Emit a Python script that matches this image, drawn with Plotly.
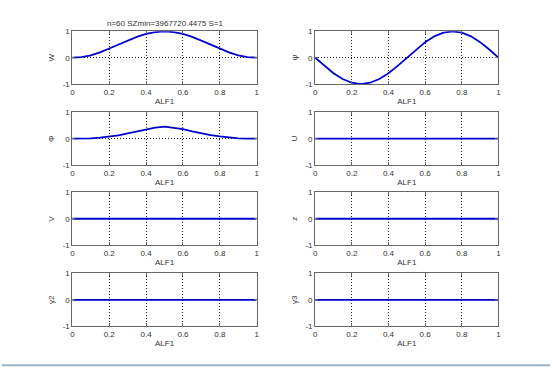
import plotly.graph_objects as go

# ---- data ----
alf1 = [0.0, 0.05, 0.1, 0.15, 0.2, 0.25, 0.3, 0.35, 0.4, 0.45, 0.5,
        0.55, 0.6, 0.65, 0.7, 0.75, 0.8, 0.85, 0.9, 0.95, 1.0]
w_vals = [0.0, 0.02, 0.09, 0.2, 0.35, 0.5, 0.65, 0.79, 0.9, 0.97, 1.0,
          0.97, 0.9, 0.79, 0.65, 0.5, 0.35, 0.2, 0.09, 0.02, 0.0]
psi_vals = [0.0, -0.31, -0.59, -0.81, -0.95, -1.0, -0.95, -0.81, -0.59, -0.31, 0.0,
            0.31, 0.59, 0.81, 0.95, 1.0, 0.95, 0.81, 0.59, 0.31, 0.0]
phi_vals = [0.0, 0.0, 0.01, 0.04, 0.08, 0.13, 0.2, 0.28, 0.36, 0.42, 0.46,
            0.42, 0.36, 0.28, 0.2, 0.14, 0.09, 0.04, 0.01, 0.0, 0.0]
u_vals = [0.0] * 21
v_vals = [0.0] * 21
z_vals = [0.0] * 21
g2_vals = [0.0] * 21
g3_vals = [0.0] * 21

panels = [("W", w_vals), ("ψ", psi_vals), ("Φ", phi_vals), ("U", u_vals),
          ("V", v_vals), ("z", z_vals), ("γ2", g2_vals), ("γ3", g3_vals)]
x_ticks = [0, 0.2, 0.4, 0.6, 0.8, 1]
x_ticklabels = ["0", "0.2", "0.4", "0.6", "0.8", "1"]
y_ticks = [-1, 0, 1]
y_ticklabels = ["-1", "0", "1"]
title_text = "n=60 SZmin=3967720.4475 S=1"

W, H = 553, 378
col_px = [(71, 257), (316, 501)]
row_px = [(28, 82), (111, 165), (193, 247), (276, 330)]

fig = go.Figure()
font = dict(family="Liberation Sans, Arial, sans-serif", size=8, color="#333")
layout = dict(width=W, height=H, autosize=False, margin=dict(l=0, r=0, t=0, b=0),
              paper_bgcolor="white", plot_bgcolor="white", showlegend=False, font=font)

for i, (lab, vals) in enumerate(panels):
    r, c = divmod(i, 2)
    n = i + 1
    xa = "x" if n == 1 else f"x{n}"
    ya = "y" if n == 1 else f"y{n}"
    fig.add_trace(go.Scatter(x=alf1, y=vals, mode="lines", xaxis=xa, yaxis=ya,
                             line=dict(color="#0000cc", width=1.8), hoverinfo="skip"))
    x0, x1 = col_px[c]
    y0, y1 = row_px[r]
    common = dict(showline=True, mirror="ticks", linecolor="#666", linewidth=1,
                  ticks="inside", ticklen=3, tickcolor="#666",
                  showgrid=True, gridcolor="#222", griddash="1px,2px", gridwidth=1,
                  zeroline=False, tickfont=font, fixedrange=True)
    layout["xaxis" if n == 1 else f"xaxis{n}"] = dict(
        domain=[x0 / W, x1 / W], range=[0, 1], anchor=ya,
        tickvals=x_ticks, ticktext=x_ticklabels,
        title=dict(text="ALF1", font=font, standoff=2), **common)
    layout["yaxis" if n == 1 else f"yaxis{n}"] = dict(
        domain=[1 - y1 / H, 1 - y0 / H], range=[-1, 1], anchor=xa,
        tickvals=y_ticks, ticktext=y_ticklabels,
        title=dict(text=lab, font=font, standoff=6), **common)

fig.update_layout(**layout)
fig.add_annotation(text=title_text, xref="paper", yref="paper",
                   x=(71 + 257) / 2 / W, y=1 - 20 / H, showarrow=False,
                   font=font, xanchor="center", yanchor="middle")
fig.add_shape(type="line", xref="paper", yref="paper", x0=0, x1=1,
              y0=1 - 370 / H, y1=1 - 370 / H,
              line=dict(color="#9db3c2", width=2))

fig.write_html("out.html", config={"displayModeBar": False},
               post_script="document.body.style.margin='0';document.body.style.overflow='hidden';")
